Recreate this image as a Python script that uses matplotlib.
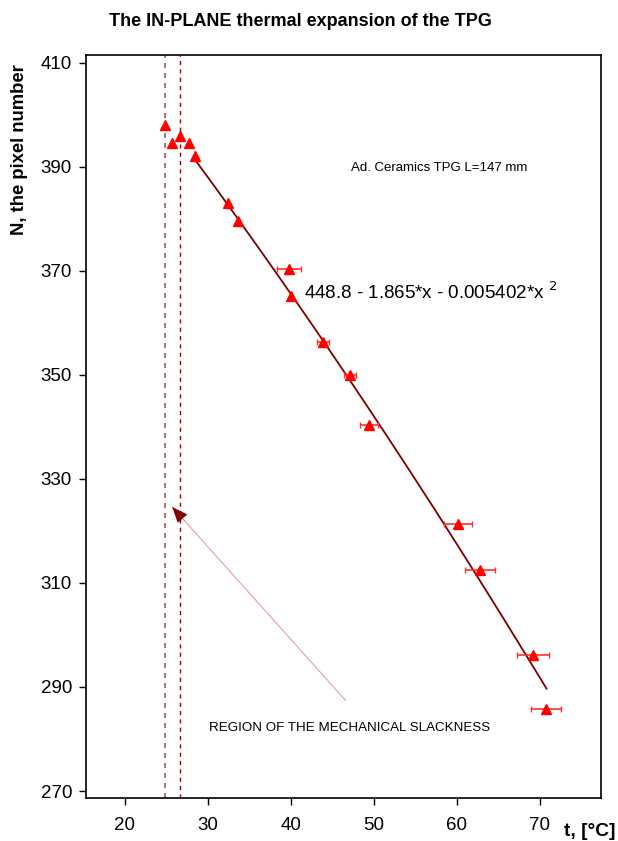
import numpy as np
import matplotlib
matplotlib.use("Agg")
import matplotlib.pyplot as plt

plt.rcParams['font.family'] = ['Liberation Sans', 'DejaVu Sans']

# data
t_vals = [24.8, 25.7, 26.6, 27.7, 28.5, 32.4, 33.6, 39.8, 40.0, 43.9, 47.1, 49.4, 60.1, 62.8, 69.2, 70.7]
n_vals = [398.0, 394.6, 396.0, 394.6, 392.0, 383.0, 379.6, 370.4, 365.2, 356.4, 350.0, 340.4, 321.3, 312.5, 296.1, 285.8]
t_err = [0, 0, 0, 0, 0, 0, 0, 1.45, 0.0, 0.7, 0.7, 1.1, 1.7, 1.8, 1.9, 1.8]
fit_coef = [448.8, -1.865, -0.005402]
fit_range = [28.3, 70.8]
vlines = [24.8, 26.6]
x_ticks = [20, 30, 40, 50, 60, 70]
y_ticks = [270, 290, 310, 330, 350, 370, 390, 410]

fig = plt.figure(figsize=(6.18, 8.41), dpi=100)
ax = fig.add_axes([0.139, 0.0511, 0.8333, 0.8835])

ax.axvline(vlines[0], color='#a06060', ls=(0, (3, 3)), lw=1.2)
ax.axvline(vlines[1], color='#a00000', ls=(0, (3, 3)), lw=1.0)

xf = np.linspace(fit_range[0], fit_range[1], 200)
yf = fit_coef[0] + fit_coef[1] * xf + fit_coef[2] * xf ** 2
ax.plot(xf, yf, color='#7a0000', lw=1.3, zorder=2)

ax.errorbar(t_vals, n_vals, xerr=t_err, fmt='^', color='red', ms=7,
            ecolor='#ff3030', elinewidth=1.2, capsize=2.5, capthick=1.0, zorder=3)

ax.annotate('', xy=(25.7, 324.6), xytext=(46.6, 287.4),
            arrowprops=dict(arrowstyle='-', color='#e0a0a0', lw=0.8,
                            shrinkA=0, shrinkB=0))
# dark arrow head
ax.annotate('', xy=(25.7, 324.6), xytext=(27.2, 321.9),
            arrowprops=dict(arrowstyle='-|>,head_length=1.1,head_width=0.45',
                            color='#800000', lw=0.1, shrinkA=0, shrinkB=0))

ax.text(57.9, 389.8, 'Ad. Ceramics TPG L=147 mm', fontsize=9.5, ha='center', va='center')
ax.text(41.6, 365.8, r'448.8 - 1.865*x - 0.005402*x $^{2}$', fontsize=13.5, ha='left', va='center')
ax.text(30.1, 282.2, 'REGION OF THE MECHANICAL SLACKNESS', fontsize=9.6, ha='left', va='center')

ax.set_xlim(15.3, 77.35)
ax.set_ylim(268.65, 411.5)
ax.set_xticks(x_ticks)
ax.set_yticks(y_ticks)
ax.tick_params(axis='both', direction='out', labelsize=13.5, length=5, width=1)
ax.tick_params(axis='y', pad=5)
ax.tick_params(axis='x', pad=9)
for s in ax.spines.values():
    s.set_linewidth(1.2)

fig.text(0.486, 0.975, 'The IN-PLANE thermal expansion of the TPG', fontsize=13,
         fontweight='bold', ha='center', va='center')
fig.text(0.032, 0.822, 'N, the pixel number', fontsize=13.3, fontweight='bold',
         rotation=90, ha='center', va='center')
fig.text(0.955, 0.011, 't, [°C]', fontsize=13.8, fontweight='bold', ha='center', va='center')

fig.savefig('out.png', dpi=100)
